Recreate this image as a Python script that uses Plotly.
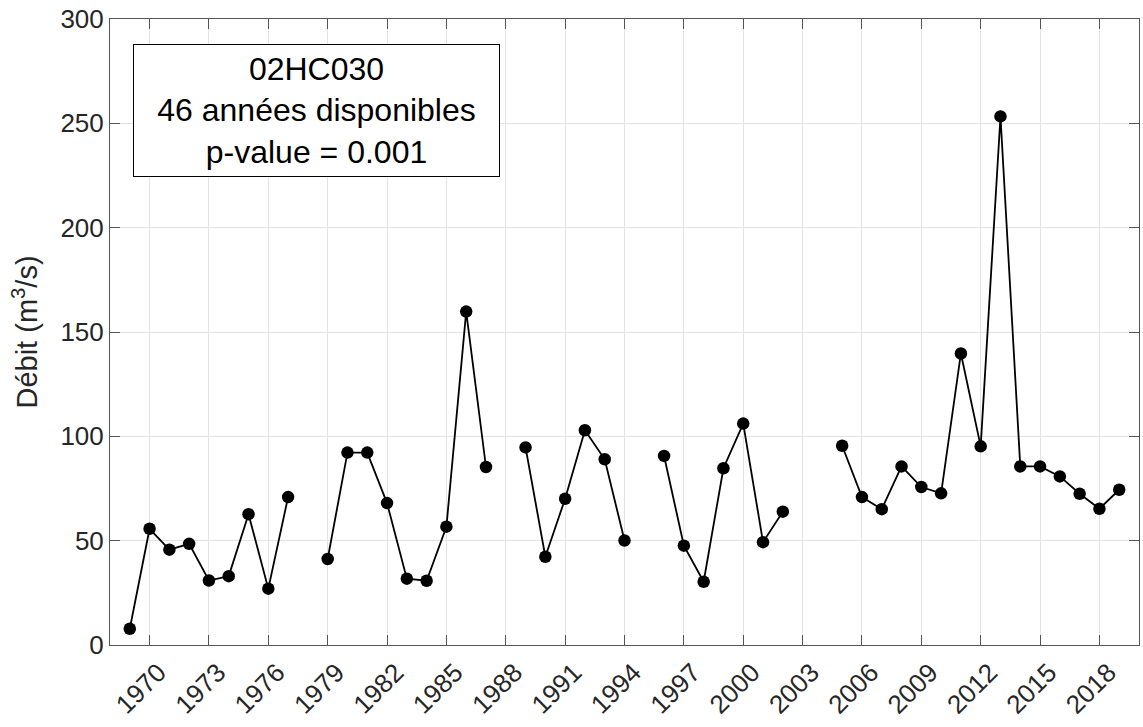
import plotly.graph_objects as go

# Annual flow series for station 02HC030 (None = year with no data)
years = list(range(1969, 2020))
debit = [
    7.8, 55.7, 45.7, 48.5, 30.9, 33.0, 62.7, 27.0, 70.9, None,   # 1969-1978
    41.2, 92.2, 92.2, 68.0, 31.8, 30.8, 56.7, 159.8, 85.3, None, # 1979-1988
    94.7, 42.3, 70.1, 102.9, 89.0, 50.1, None,                   # 1989-1995
    90.6, 47.6, 30.3, 84.7, 106.1, 49.3, 63.9, None, None,       # 1996-2004
    95.5, 70.9, 65.1, 85.6, 75.7, 72.7, 139.7, 95.2, 253.3,      # 2005-2013
    85.6, 85.6, 80.8, 72.5, 65.3, 74.4,                          # 2014-2019
]

x_ticks = list(range(1970, 2019, 3))
y_ticks = list(range(0, 301, 50))

station = "02HC030"
n_years = sum(v is not None for v in debit)
p_value = "0.001"

FONT = "Liberation Sans, Arial, sans-serif"
AXIS_COLOR = "#555555"
GRID_COLOR = "#e3e3e3"
TEXT_COLOR = "#262626"

fig = go.Figure()
fig.add_trace(go.Scatter(
    x=years,
    y=debit,
    mode="lines+markers",
    connectgaps=False,
    line=dict(color="black", width=1.8),
    marker=dict(color="black", size=12.5),
    showlegend=False,
))

axis_common = dict(
    showline=True,
    linecolor=AXIS_COLOR,
    linewidth=1,
    mirror="ticks",
    ticks="inside",
    ticklen=10,
    tickwidth=1,
    tickcolor=AXIS_COLOR,
    showgrid=True,
    gridcolor=GRID_COLOR,
    gridwidth=1,
    zeroline=False,
    automargin=False,
    tickfont=dict(family=FONT, size=26, color=TEXT_COLOR),
)

fig.update_xaxes(
    range=[1968, 2020],
    tickmode="array",
    tickvals=x_ticks,
    ticktext=[str(t) for t in x_ticks],
    tickangle=-45,
    ticklabelstandoff=1,
    ticklabelshift=9,
    **axis_common,
)
fig.update_yaxes(
    range=[0, 300],
    tickmode="array",
    tickvals=y_ticks,
    title=dict(text="Débit (m<sup>3</sup>/s)",
               font=dict(family=FONT, size=29, color=TEXT_COLOR),
               standoff=14),
    **axis_common,
)

fig.add_annotation(
    xref="paper", yref="paper",
    x=0.2009, y=0.854,
    xanchor="center", yanchor="middle",
    text=f"{station}<br>{n_years} années disponibles<br>p-value = {p_value}",
    showarrow=False,
    align="center",
    font=dict(family=FONT, size=32, color="black"),
    bgcolor="white",
    bordercolor="black",
    borderwidth=1,
    borderpad=0,
    width=365,
    height=131,
)

fig.update_layout(
    width=1143,
    height=727,
    margin=dict(l=110, r=4, t=19, b=82),
    paper_bgcolor="white",
    plot_bgcolor="white",
)

fig.write_html("out.html")
